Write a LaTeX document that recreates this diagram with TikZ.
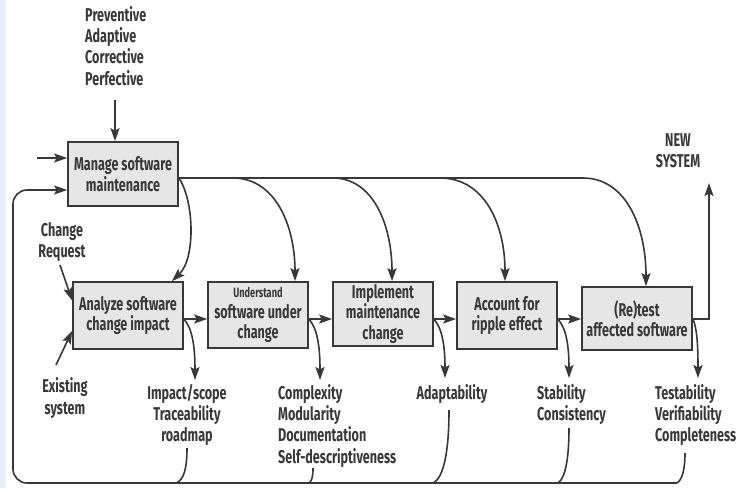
\documentclass[tikz,border=0pt]{standalone}
\usepackage{fontspec}
\setmainfont{Fira Sans}[FakeStretch=0.68]
\usetikzlibrary{arrows.meta}
\definecolor{ink}{HTML}{383838}
\definecolor{boxfill}{HTML}{E6E6E6}
\definecolor{strip}{HTML}{E6F0FB}
\tikzset{
  procbox/.style={draw=ink, line width=1.7pt, fill=boxfill, text=ink, align=center, inner sep=0pt, font=\fontsize{18.5}{20.5}\selectfont\bfseries},
  lbl/.style={text=ink, inner sep=0pt, font=\fontsize{18.5}{21.3}\selectfont\bfseries},
  conn/.style={draw=ink, line width=1.6pt},
  arr/.style={conn, -{Stealth[length=13pt,width=9pt,inset=2.5pt]}},
}
\begin{document}
\begin{tikzpicture}[x=1pt,y=-1pt]
\useasboundingbox (0,0) rectangle (751,488);
\fill[white] (0,0) rectangle (751,488);
\fill[strip] (0,0) rectangle (6,488);

% boxes
\node[procbox, minimum width=110pt, minimum height=64pt] (manage) at (123,174) {Manage software\\maintenance};
\node[procbox, minimum width=110pt, minimum height=67pt] (analyze) at (128,315.5) {Analyze software\\change impact};
\node[procbox, minimum width=100pt, minimum height=66pt] (understand) at (258,315) {{\fontsize{13.5}{14}\selectfont Understand}\\software under\\change};
\node[procbox, minimum width=100pt, minimum height=64pt] (implement) at (383,314) {Implement\\maintenance\\change};
\node[procbox, minimum width=100pt, minimum height=67pt] (account) at (507,315.5) {Account for\\ripple effect};
\node[procbox, minimum width=110pt, minimum height=63pt] (retest) at (637,318.5) {(Re)test\\affected software};

% labels
\node[lbl, align=left, anchor=north west] (types) at (85,6) {Preventive\\Adaptive\\Corrective\\Perfective};
\node[lbl, align=center] (newsys) at (678,151) {NEW\\SYSTEM};
\node[lbl, align=center] (changereq) at (62,242) {Change\\Request};
\node[lbl, align=center] (existing) at (65,398) {Existing\\system};
\node[lbl, align=center, anchor=north] (impact) at (187,384) {Impact/scope\\Traceability\\roadmap};
\node[lbl, align=left, anchor=north west] (complexity) at (278,384) {Complexity\\Modularity\\Documentation\\Self-descriptiveness};
\node[lbl, anchor=north] (adapt) at (452,384) {Adaptability};
\node[lbl, align=left, anchor=north west] (stability) at (537,384) {Stability\\Consistency};
\node[lbl, align=left, anchor=north west] (testab) at (655,384) {Testability\\Verifiability\\Completeness};

% coordinates
\coordinate (inL) at (37,158);
\coordinate (c1) at (233,178);
\coordinate (c2) at (333,178);
\coordinate (c3) at (440,178);
\coordinate (c4) at (583,178);
\coordinate (newtip) at (709,183);
\coordinate (bL) at (13,483);
\coordinate (bR) at (677,483);
\coordinate (f1) at (176,483);
\coordinate (f2) at (309,483);
\coordinate (f3) at (433,483);
\coordinate (f4) at (558,483);
\coordinate (crS) at (60,265);
\coordinate (exS) at (56,365);

% inputs to manage
\draw[arr] (115,100) -- (manage.north -| 115,0);
\draw[arr] (inL) -- ([yshift=16pt]manage.west);
\draw[arr, rounded corners=14pt] (bR) -- (bL) -- (13,190) -- ([yshift=-16pt]manage.west);

% top distribution line and curves
\draw[conn] ([yshift=-4pt]manage.east) -- (c4);
\draw[arr] ([yshift=-4pt]manage.east) .. controls (194,200) and (196,258) .. ([xshift=44pt]analyze.north);
\draw[arr] (c1) .. controls (275,178) and (295,225) .. ([xshift=37pt]understand.north);
\draw[arr] (c2) .. controls (373,178) and (392,225) .. ([xshift=9pt]implement.north);
\draw[arr] (c3) .. controls (485,178) and (505,225) .. ([xshift=-2pt]account.north);
\draw[arr] (c4) .. controls (625,178) and (646,225) .. ([xshift=9pt]retest.north);

% chain
\draw[arr] ([yshift=-3.5pt]analyze.east) -- ([yshift=-3.5pt]analyze.east -| understand.west);
\draw[arr] ([yshift=-4pt]understand.east) -- ([yshift=-4pt]understand.east -| implement.west);
\draw[arr] ([yshift=-5pt]implement.east) -- ([yshift=-5pt]implement.east -| account.west);
\draw[arr] ([yshift=-3.5pt]account.east) -- ([yshift=-3.5pt]account.east -| retest.west);
\draw[arr] ([yshift=-0.5pt]retest.east) -- (709,319) -- (newtip);

% side inputs
\draw[arr] (crS) -- ([yshift=15pt]analyze.west);
\draw[arr] (exS) -- ([yshift=19pt]analyze.south west);

% outputs down
\draw[arr] ([yshift=-3.5pt]analyze.east) .. controls (192,328) and (195,345) .. (195,380);
\draw[arr] ([yshift=-4pt]understand.east) .. controls (317,328) and (320,345) .. (320,380);
\draw[arr] ([yshift=-5pt]implement.east) .. controls (442,328) and (445,345) .. (445,378);
\draw[arr] ([yshift=-3.5pt]account.east) .. controls (566,328) and (569,345) .. (569,378);
\draw[arr] ([yshift=-0.5pt]retest.east) .. controls (697,328) and (698,345) .. (698,378);

% feedback curves
\draw[conn] (187,448) .. controls (187,468) and (184,480) .. (f1);
\draw[conn] (313,468) .. controls (313,476) and (312,481) .. (f2);
\draw[conn] (449,410) .. controls (449,450) and (444,478) .. (f3);
\draw[conn] (569,428) .. controls (569,455) and (566,478) .. (f4);
\draw[conn] (685,453) .. controls (685,470) and (682,480) .. (bR);
\end{tikzpicture}
\end{document}
